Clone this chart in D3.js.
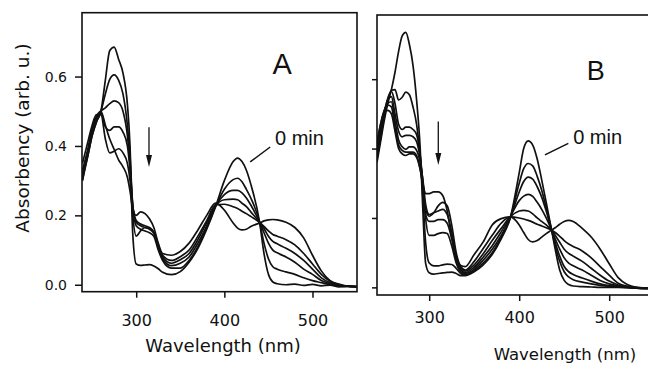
<!DOCTYPE html>
<html>
<head>
<meta charset="utf-8">
<script src="https://cdn.jsdelivr.net/npm/d3@7"></script>
<style>
  html, body { margin: 0; padding: 0; background: #fff; }
  svg { display: block; font-family: "DejaVu Sans", sans-serif; }
</style>
</head>
<body>
<svg id="chart" width="648" height="365"></svg>
<script>
// ---- data (absorbance vs wavelength, nm) ----
const wlA = [239, 245, 250, 255, 260, 265, 270, 275, 280, 285, 290, 293, 296, 300, 305,
  310, 315, 320, 325, 330, 340, 350, 360, 370, 380, 390, 400, 410, 415, 420,
  425, 430, 440, 445, 450, 455, 460, 470, 480, 490, 500, 510, 520, 530, 540, 550];

// panel A, 0 min first
const a0 = [0.30, 0.37, 0.43, 0.47, 0.50, 0.59, 0.675, 0.685, 0.65, 0.61, 0.52, 0.40, 0.15, 0.06, 0.056,
  0.057, 0.058, 0.054, 0.046, 0.036, 0.029, 0.038, 0.065, 0.105, 0.16, 0.225, 0.30, 0.355, 0.365, 0.355,
  0.33, 0.29, 0.18, 0.09, 0.03, 0.008, 0.003, 0.0, 0.002, -0.002, 0.001, -0.003, -0.001, -0.006, -0.004, -0.006];
const a1 = [0.31, 0.37, 0.43, 0.47, 0.50, 0.55, 0.592, 0.605, 0.59, 0.55, 0.46, 0.37, 0.23, 0.17, 0.16,
  0.155, 0.15, 0.14, 0.10, 0.07, 0.048, 0.048, 0.07, 0.11, 0.165, 0.225, 0.275, 0.303, 0.307, 0.297,
  0.275, 0.25, 0.18, 0.12, 0.075, 0.052, 0.045, 0.037, 0.03, 0.02, 0.012, 0.006, 0.0, -0.004, -0.005, -0.006];
const a2 = [0.32, 0.38, 0.44, 0.48, 0.50, 0.51, 0.522, 0.53, 0.525, 0.50, 0.43, 0.35, 0.23, 0.18, 0.17,
  0.165, 0.16, 0.148, 0.11, 0.075, 0.055, 0.062, 0.08, 0.12, 0.17, 0.227, 0.26, 0.272, 0.272, 0.265,
  0.25, 0.23, 0.18, 0.15, 0.12, 0.10, 0.092, 0.08, 0.065, 0.045, 0.03, 0.012, 0.003, -0.003, -0.005, -0.005];
const a3 = [0.33, 0.39, 0.45, 0.485, 0.495, 0.455, 0.445, 0.455, 0.455, 0.44, 0.40, 0.33, 0.23, 0.185, 0.175,
  0.17, 0.165, 0.152, 0.115, 0.08, 0.062, 0.072, 0.09, 0.13, 0.18, 0.228, 0.245, 0.247, 0.245, 0.235,
  0.225, 0.21, 0.18, 0.162, 0.14, 0.125, 0.118, 0.105, 0.09, 0.07, 0.045, 0.02, 0.006, -0.002, -0.004, -0.005];
const a4 = [0.35, 0.41, 0.46, 0.49, 0.49, 0.42, 0.38, 0.385, 0.392, 0.38, 0.35, 0.30, 0.20, 0.14, 0.155,
  0.165, 0.163, 0.15, 0.11, 0.085, 0.07, 0.081, 0.10, 0.14, 0.185, 0.23, 0.232, 0.225, 0.22, 0.212,
  0.205, 0.197, 0.18, 0.168, 0.155, 0.145, 0.14, 0.13, 0.115, 0.09, 0.06, 0.03, 0.01, 0.0, -0.004, -0.005];
const a5 = [0.30, 0.38, 0.44, 0.485, 0.50, 0.46, 0.42, 0.39, 0.36, 0.34, 0.31, 0.27, 0.22, 0.20, 0.21,
  0.205, 0.19, 0.165, 0.12, 0.09, 0.085, 0.096, 0.12, 0.158, 0.20, 0.235, 0.215, 0.178, 0.163, 0.158,
  0.16, 0.168, 0.178, 0.184, 0.187, 0.188, 0.187, 0.18, 0.165, 0.135, 0.085, 0.04, 0.012, 0.002, -0.004, -0.005];
const curvesA = [a0, a1, a2, a3, a4, a5];

const wlB = [242, 246, 250, 254, 258, 262, 266, 270, 274, 278, 282, 286, 290, 293, 296,
  300, 305, 310, 315, 320, 325, 330, 335, 340, 350, 360, 370, 380, 390, 400,
  405, 410, 415, 420, 425, 430, 436, 440, 445, 450, 455, 460, 470, 480, 490,
  500, 510, 520, 530, 540, 550];

// panel B, 0 min first
const b0 = [0.36, 0.42, 0.48, 0.53, 0.57, 0.62, 0.68, 0.725, 0.735, 0.70, 0.64, 0.54, 0.40, 0.22, 0.07,
  0.042, 0.038, 0.04, 0.042, 0.043, 0.044, 0.04, 0.034, 0.034, 0.045, 0.065, 0.095, 0.14, 0.20, 0.33,
  0.40, 0.422, 0.41, 0.37, 0.31, 0.245, 0.165, 0.11, 0.05, 0.02, 0.008, 0.004, 0.002, 0.001, 0.0,
  0.0, 0.0, -0.001, -0.002, -0.003, -0.003];
const b1 = [0.37, 0.43, 0.49, 0.54, 0.568, 0.57, 0.54, 0.548, 0.563, 0.555, 0.52, 0.47, 0.38, 0.26, 0.13,
  0.07, 0.062, 0.062, 0.065, 0.067, 0.066, 0.055, 0.04, 0.036, 0.048, 0.07, 0.10, 0.145, 0.20, 0.30,
  0.342, 0.357, 0.35, 0.32, 0.28, 0.23, 0.165, 0.12, 0.075, 0.045, 0.03, 0.022, 0.015, 0.01, 0.006,
  0.003, 0.001, 0.0, -0.002, -0.003, -0.003];
const b2 = [0.38, 0.44, 0.50, 0.545, 0.565, 0.53, 0.47, 0.455, 0.462, 0.462, 0.455, 0.44, 0.38, 0.30, 0.20,
  0.15, 0.15, 0.155, 0.158, 0.155, 0.12, 0.07, 0.045, 0.04, 0.052, 0.078, 0.11, 0.15, 0.20, 0.275,
  0.305, 0.318, 0.312, 0.29, 0.26, 0.22, 0.165, 0.13, 0.09, 0.06, 0.045, 0.037, 0.027, 0.018, 0.01,
  0.005, 0.002, 0.0, -0.002, -0.003, -0.003];
const b3 = [0.39, 0.45, 0.505, 0.54, 0.55, 0.50, 0.45, 0.434, 0.438, 0.438, 0.434, 0.42, 0.37, 0.30, 0.21,
  0.19, 0.19, 0.195, 0.195, 0.185, 0.14, 0.08, 0.05, 0.043, 0.058, 0.087, 0.12, 0.16, 0.203, 0.25,
  0.263, 0.268, 0.262, 0.245, 0.225, 0.20, 0.165, 0.14, 0.11, 0.085, 0.07, 0.062, 0.05, 0.035, 0.02,
  0.01, 0.004, 0.001, -0.002, -0.003, -0.003];
const b4 = [0.40, 0.46, 0.505, 0.53, 0.535, 0.48, 0.425, 0.405, 0.398, 0.405, 0.405, 0.395, 0.36, 0.31, 0.24,
  0.21, 0.215, 0.22, 0.225, 0.21, 0.16, 0.09, 0.055, 0.047, 0.065, 0.097, 0.135, 0.17, 0.203, 0.22,
  0.222, 0.22, 0.212, 0.20, 0.19, 0.18, 0.165, 0.15, 0.13, 0.11, 0.098, 0.09, 0.075, 0.055, 0.035,
  0.018, 0.007, 0.002, -0.001, -0.003, -0.003];
const b5 = [0.41, 0.47, 0.51, 0.525, 0.52, 0.46, 0.41, 0.395, 0.39, 0.39, 0.39, 0.38, 0.34, 0.29, 0.225,
  0.205, 0.215, 0.235, 0.245, 0.235, 0.18, 0.10, 0.06, 0.05, 0.075, 0.112, 0.15, 0.185, 0.203, 0.20,
  0.197, 0.193, 0.188, 0.182, 0.177, 0.172, 0.165, 0.158, 0.147, 0.135, 0.125, 0.118, 0.105, 0.085, 0.06,
  0.035, 0.012, 0.003, 0.0, -0.002, -0.003];
const b6 = [0.42, 0.47, 0.505, 0.51, 0.50, 0.45, 0.40, 0.385, 0.38, 0.385, 0.385, 0.375, 0.34, 0.30, 0.27,
  0.27, 0.275, 0.275, 0.265, 0.22, 0.145, 0.09, 0.063, 0.06, 0.095, 0.131, 0.18, 0.198, 0.203, 0.18,
  0.158, 0.138, 0.131, 0.135, 0.145, 0.155, 0.165, 0.172, 0.182, 0.19, 0.193, 0.19, 0.17, 0.145, 0.11,
  0.068, 0.028, 0.008, 0.0, -0.002, -0.003];
const curvesB = [b0, b1, b2, b3, b4, b5, b6];

const xTicks = [300, 400, 500];
const yTicks = [0, 0.2, 0.4, 0.6];
const yTickLabels = ['0.0', '0.2', '0.4', '0.6'];

// annotations, in data units
const annA = {letter: 'A', letterAt: [465.6, 0.607], minAt: [457.5, 0.403],
  leader: [[429.3, 0.354], [452, 0.397]], arrowW: 314.5, arrowFrom: 0.454, arrowTo: 0.339};
const annB = {letter: 'B', letterAt: [485, 0.598], minAt: [460, 0.413],
  leader: [[428.6, 0.382], [454.6, 0.415]], arrowW: 310.1, arrowFrom: 0.478, arrowTo: 0.353};

// ---- drawing ----
const svg = d3.select('#chart');
const ink = '#111';

const panels = [
  {key: 'A', wl: wlA, curves: curvesA, ann: annA,
   box: {l: 82, r: 357, t: 12.7, b: 291.7}, xDom: [238.5, 550.5], yDom: [-0.02, 0.784],
   yLabels: true, ySize: 7, xPad: 17, letterSize: 29,
   title: {x: 223, y: 352, size: 18}},
  {key: 'B', wl: wlB, curves: curvesB, ann: annB,
   box: {l: 377, r: 659.6, t: 15, b: 295}, xDom: [242, 556], yDom: [-0.022, 0.785],
   yLabels: false, ySize: 5, xPad: 11, letterSize: 27,
   title: {x: 565, y: 360, size: 16.5}}
];

panels.forEach(p => {
  const x = d3.scaleLinear().domain(p.xDom).range([p.box.l, p.box.r]);
  const y = d3.scaleLinear().domain(p.yDom).range([p.box.b, p.box.t]);
  const g = svg.append('g').attr('class', 'panel panel--' + p.key);

  g.append('clipPath').attr('id', 'clip' + p.key)
    .append('rect')
    .attr('x', p.box.l).attr('y', p.box.t)
    .attr('width', p.box.r - p.box.l).attr('height', p.box.b - p.box.t);

  const line = d3.line()
    .x(d => x(d[0]))
    .y(d => y(d[1]))
    .curve(d3.curveMonotoneX);

  g.append('g')
    .attr('clip-path', 'url(#clip' + p.key + ')')
    .selectAll('path')
    .data(p.curves)
    .enter()
    .append('path')
    .attr('d', vals => line(vals.map((v, i) => [p.wl[i], v])))
    .attr('fill', 'none')
    .attr('stroke', ink)
    .attr('stroke-width', 1.7)
    .attr('stroke-linejoin', 'round');

  // frame
  g.append('rect')
    .attr('x', p.box.l).attr('y', p.box.t)
    .attr('width', p.box.r - p.box.l).attr('height', p.box.b - p.box.t)
    .attr('fill', 'none').attr('stroke', ink).attr('stroke-width', 1.6);

  const axisX = d3.axisBottom(x).tickValues(xTicks).tickSize(6).tickPadding(p.xPad);
  const gx = g.append('g')
    .attr('transform', 'translate(0,' + p.box.b + ')')
    .call(axisX);
  gx.select('.domain').remove();
  gx.selectAll('line').attr('stroke', ink).attr('stroke-width', 1.5);
  gx.selectAll('text').attr('fill', ink).attr('font-size', 16)
    .attr('font-family', '"DejaVu Sans", sans-serif');

  const axisY = d3.axisLeft(y).tickValues(yTicks).tickSize(p.ySize).tickPadding(8)
    .tickFormat((d, i) => p.yLabels ? yTickLabels[i] : '');
  const gy = g.append('g')
    .attr('transform', 'translate(' + p.box.l + ',0)')
    .call(axisY);
  gy.select('.domain').remove();
  gy.selectAll('line').attr('stroke', ink).attr('stroke-width', 1.5);
  gy.selectAll('text').attr('fill', ink).attr('font-size', 14)
    .attr('font-family', '"DejaVu Sans", sans-serif');

  g.append('text')
    .attr('x', p.title.x).attr('y', p.title.y)
    .attr('text-anchor', 'middle')
    .attr('font-size', p.title.size)
    .attr('fill', ink)
    .text('Wavelength (nm)');

  // panel letter
  const a = p.ann;
  g.append('text')
    .attr('x', x(a.letterAt[0])).attr('y', y(a.letterAt[1]))
    .attr('text-anchor', 'middle')
    .attr('font-family', '"Liberation Sans", sans-serif')
    .attr('font-size', p.letterSize)
    .attr('fill', ink)
    .text(a.letter);

  // "0 min" label and its leader
  g.append('text')
    .attr('x', x(a.minAt[0])).attr('y', y(a.minAt[1]))
    .attr('font-family', '"Liberation Sans", sans-serif')
    .attr('font-size', 20)
    .attr('fill', ink)
    .text('0 min');
  g.append('line')
    .attr('x1', x(a.leader[0][0])).attr('y1', y(a.leader[0][1]))
    .attr('x2', x(a.leader[1][0])).attr('y2', y(a.leader[1][1]))
    .attr('stroke', ink).attr('stroke-width', 1.5);

  // downward arrow
  const ax = x(a.arrowW), ay0 = y(a.arrowFrom), ay1 = y(a.arrowTo);
  g.append('line')
    .attr('x1', ax).attr('y1', ay0).attr('x2', ax).attr('y2', ay1 - 8)
    .attr('stroke', ink).attr('stroke-width', 1.3);
  g.append('path')
    .attr('d', `M${ax - 3},${ay1 - 12}L${ax + 3},${ay1 - 12}L${ax},${ay1}Z`)
    .attr('fill', ink);
});

// y axis title
svg.append('text')
  .attr('transform', 'translate(29,138) rotate(-90)')
  .attr('text-anchor', 'middle')
  .attr('font-size', 18.5)
  .attr('fill', ink)
  .text('Absorbency (arb. u.)');
</script>
</body>
</html>
